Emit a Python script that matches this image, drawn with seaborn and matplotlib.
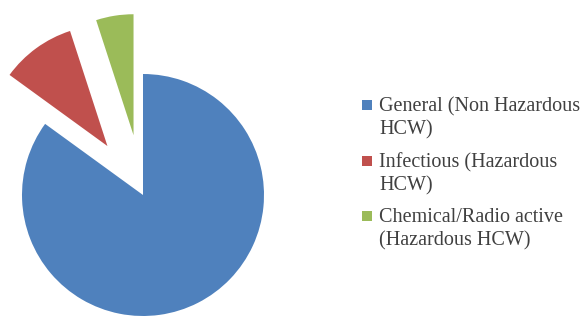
import matplotlib
matplotlib.use("Agg")
import matplotlib.pyplot as plt
from matplotlib.patches import Rectangle
from matplotlib.legend_handler import HandlerPatch
import seaborn as sns

categories = ["General (Non Hazardous\nHCW)", "Infectious (Hazardous\nHCW)", "Chemical/Radio active\n(Hazardous HCW)"]
values = [85, 10, 5]
colors = ["#4F81BD", "#C0504D", "#9BBB59"]
explode = [0.0, 0.5, 0.5]

sns.set_theme(style="white")
plt.rcParams['font.family'] = ['Liberation Serif', 'DejaVu Serif']

W, H = 584, 316
fig = plt.figure(figsize=(W / 100, H / 100), dpi=100)
ax = fig.add_axes([0, 0, 1, 1])

R = 121.0
cx, cy = 143.0, H - 195.0
wedges, _ = ax.pie(values, colors=colors, explode=explode, startangle=90,
                   counterclock=False, radius=1.0, center=(0, 0),
                   wedgeprops=dict(linewidth=0))
ax.set_xlim((0 - cx) / R, (W - cx) / R)
ax.set_ylim((0 - cy) / R, (H - cy) / R)
ax.set_aspect('auto')
ax.axis('off')

FS = 14.5


def top_square(legend, orig_handle, xdescent, ydescent, width, height, fontsize):
    s = 0.5 * fontsize
    return Rectangle((-xdescent, -ydescent + height - s + 0.6 * fontsize), s, s)


leg = ax.legend(wedges, categories, loc='upper left',
                bbox_to_anchor=(362 / W, 1 - 97 / H), bbox_transform=fig.transFigure,
                frameon=False, fontsize=FS, handlelength=0.55, handleheight=0.55,
                handletextpad=0.3, labelspacing=0.65, borderpad=0, borderaxespad=0,
                handler_map={w: HandlerPatch(patch_func=top_square) for w in wedges})
for t in leg.get_texts():
    t.set_color("#404040")
    t.set_linespacing(1.28)

fig.savefig("out.png", dpi=100, facecolor="white")
